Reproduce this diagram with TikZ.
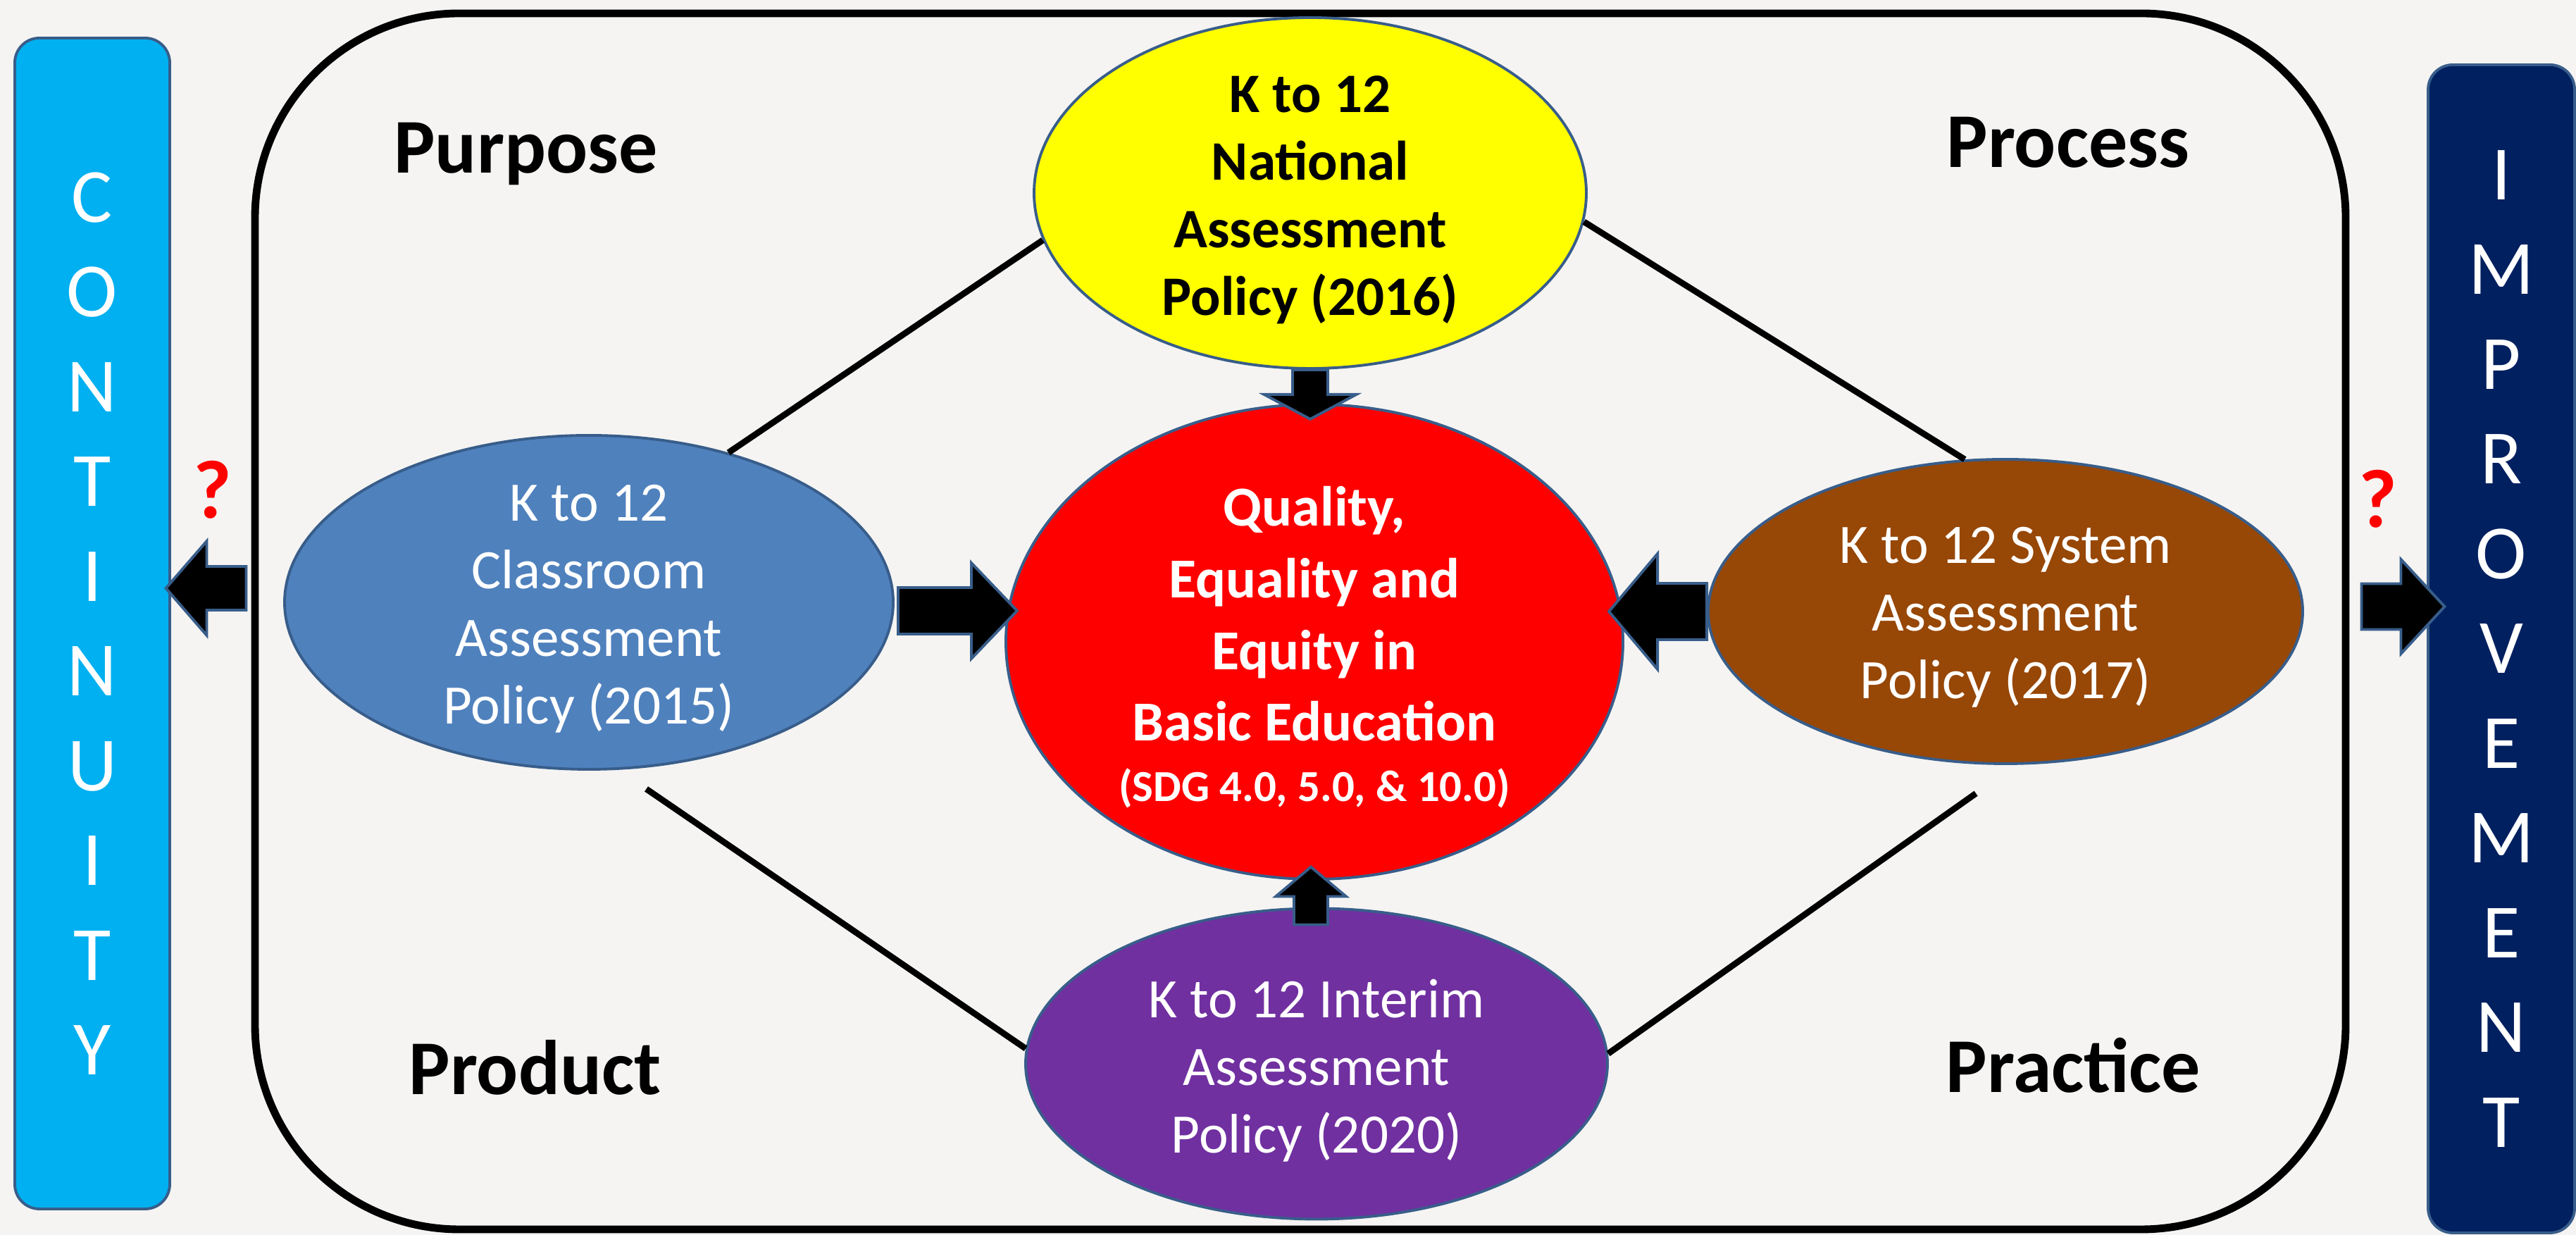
\documentclass[tikz,border=0pt]{standalone}
\usepackage{fontspec}
\setmainfont{Carlito}
\usetikzlibrary{shapes.geometric,calc}

\definecolor{paper}{RGB}{245,244,242}
\definecolor{edgeblue}{RGB}{56,93,138}
\definecolor{contblue}{RGB}{0,176,240}
\definecolor{impnavy}{RGB}{0,32,96}
\definecolor{natyellow}{RGB}{255,255,0}
\definecolor{qualred}{RGB}{255,0,0}
\definecolor{classblue}{RGB}{79,129,189}
\definecolor{sysbrown}{RGB}{151,71,6}
\definecolor{intpurple}{RGB}{112,48,160}

% block arrow along +x: length, half shaft, half head, head length
\newcommand{\blockarrow}[4]{%
  \draw[fatarrow] (0,-#2) -- ({#1-#4},-#2) -- ({#1-#4},-#3) -- (#1,0)
    -- ({#1-#4},#3) -- ({#1-#4},#2) -- (0,#2) -- cycle;}

\begin{document}
\begin{tikzpicture}
		% Define styles
		\tikzstyle{policy} = [ellipse, draw=edgeblue, line width=1.1pt, inner sep=0pt];
		\tikzstyle{policytext} = [align=center, text=white, inner sep=0pt, font=\fontsize{22.5pt}{27.3pt}\selectfont];
		\tikzstyle{corner} = [anchor=base, font=\fontsize{31.3pt}{36pt}\selectfont\bfseries];
		\tikzstyle{sidebar} = [rectangle, rounded corners=0.35cm, draw=edgeblue, line width=1.1pt, inner sep=0pt, text=white, align=center, font=\fontsize{31pt}{38.27pt}\selectfont];
		\tikzstyle{link} = [line width=2.5pt];
		\tikzstyle{fatarrow} = [fill=black, draw=edgeblue, line width=1.1pt];
		\tikzstyle{query} = [anchor=base, text=qualred, font=\fontsize{33.5pt}{36pt}\selectfont\bfseries];
		
		% Page
		\fill[paper] (0,0) rectangle (36.57,17.53);
		\useasboundingbox (0,0) rectangle (36.57,17.53);
		
		% Outer frame and side bars
		\node[rectangle, draw, line width=3.1pt, rounded corners=2.9cm, inner sep=0pt, minimum width=29.68cm, minimum height=17.26cm] (frame) at (18.46,8.71) {};
		\node[sidebar, fill=contblue, minimum width=2.20cm, minimum height=16.62cm] (continuity) at (1.31,8.68) {C\\O\\N\\T\\I\\N\\U\\I\\T\\Y};
		\node[sidebar, fill=impnavy, minimum width=2.08cm, minimum height=16.58cm] (improvement) at (35.51,8.32) {I\\M\\P\\R\\O\\V\\E\\M\\E\\N\\T};
		
		% Corner labels
		\node[corner] (purpose) at (7.465,15.07) {Purpose};
		\node[corner] (process) at (29.36,15.15) {Process};
		\node[corner] (product) at (7.595,1.99) {Product};
		\node[corner] (practice) at (29.435,2.02) {Practice};
		
		% Policies
		\node[policy, fill=natyellow, minimum width=7.84cm, minimum height=4.98cm] (national) at (18.60,14.79) {};
		\node[policy, fill=qualred, minimum width=8.76cm, minimum height=6.74cm] (quality) at (18.66,8.42) {};
		\node[policy, fill=classblue, minimum width=8.64cm, minimum height=4.74cm] (classroom) at (8.36,8.98) {};
		\node[policy, fill=sysbrown, minimum width=8.44cm, minimum height=4.32cm] (system) at (28.47,8.85) {};
		\node[policy, fill=intpurple, minimum width=8.26cm, minimum height=4.41cm] (interim) at (18.69,2.43) {};
		
		\node[policytext, text=black, font=\fontsize{22.5pt}{27.3pt}\selectfont\bfseries] (nationaltext) at (18.60,14.695) {K to 12\\National\\Assessment\\Policy (2016)};
		\node[policytext, font=\fontsize{22.8pt}{28.9pt}\selectfont\bfseries] (qualitytext) at (18.66,8.815) {Quality,\\Equality and\\Equity in\\Basic Education};
		\node[policytext, anchor=base, font=\fontsize{17.9pt}{20pt}\selectfont\bfseries] (sdg) at (18.66,6.15) {(SDG 4.0, 5.0, \& 10.0)};
		\node[policytext] (classroomtext) at (8.36,8.885) {K to 12\\Classroom\\Assessment\\Policy (2015)};
		\node[policytext] (systemtext) at (28.47,8.765) {K to 12 System\\Assessment\\Policy (2017)};
		\node[policytext] (interimtext) at (18.69,2.33) {K to 12 Interim\\Assessment\\Policy (2020)};
		
		% Lines between the four policies
		\draw[link] (classroom.47) -- (national.190);
		\draw[link, shorten <=0.48cm] (classroom.280) -- (interim.177);
		\draw[link] (national.354) -- (system.105);
		\draw[link, shorten <=0.7cm] (system.274) -- (interim.2);
		
		% Block arrows into the centre
		\begin{scope}[shift={(national.south)}, rotate=-90]
			\blockarrow{0.70}{0.25}{0.655}{0.35}
		\end{scope}
		\begin{scope}[shift={($(classroom.east)+(0.05,-0.12)$)}]
			\blockarrow{1.69}{0.33}{0.68}{0.65}
		\end{scope}
		\begin{scope}[shift={(system.west)}, rotate=180]
			\blockarrow{1.39}{0.40}{0.82}{0.69}
		\end{scope}
		\begin{scope}[shift={($(interim.north)+(-0.08,-0.25)$)}, rotate=90]
			\blockarrow{0.82}{0.24}{0.50}{0.42}
		\end{scope}
		
		% Arrows out of the frame
		\begin{scope}[shift={($(frame.west)+(-0.07,0.47)$)}, rotate=180]
			\blockarrow{1.14}{0.31}{0.67}{0.58}
		\end{scope}
		\begin{scope}[shift={($(frame.east)+(0.17,0.21)$)}]
			\blockarrow{1.18}{0.325}{0.67}{0.62}
		\end{scope}
		\node[query] (leftq) at (3.02,10.17) {?};
		\node[query] (rightq) at (33.76,10.04) {?};
	\end{tikzpicture}
\end{document}
